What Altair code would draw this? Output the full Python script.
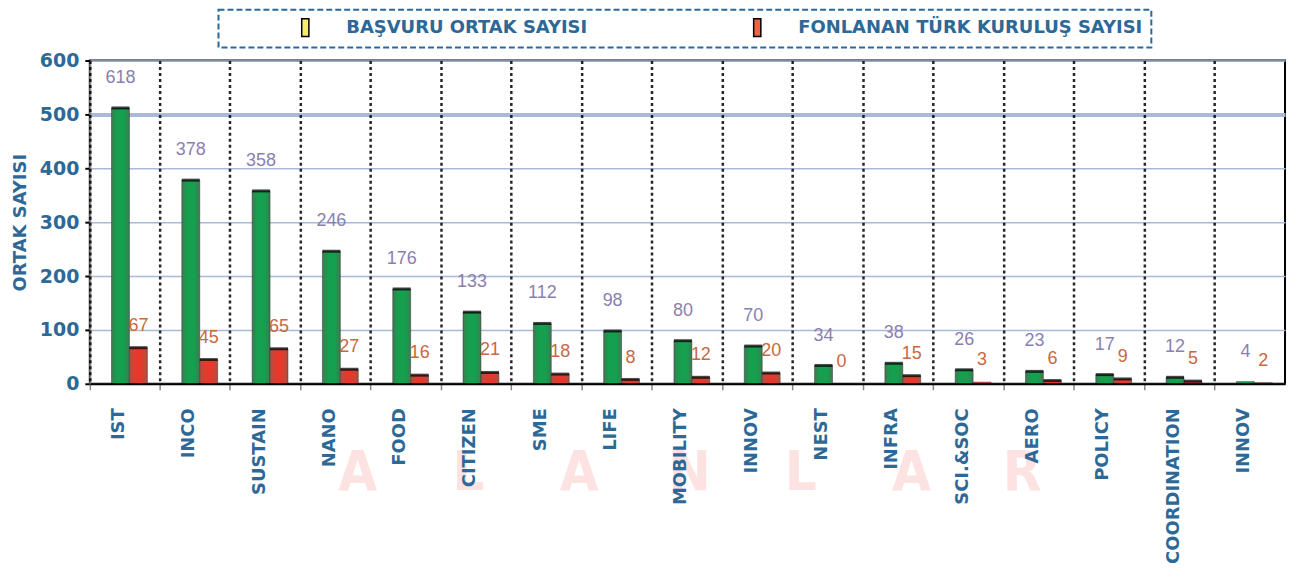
import json
import altair as alt
import pandas as pd

categories = ["IST", "INCO", "SUSTAIN", "NANO", "FOOD", "CITIZEN", "SME", "LIFE",
              "MOBILITY", "INNOV", "NEST", "INFRA", "SCI.&SOC", "AERO", "POLICY",
              "COORDINATION", "INNOV"]
basvuru_labels = [618, 378, 358, 246, 176, 133, 112, 98, 80, 70, 34, 38, 26, 23, 17, 12, 4]
basvuru_bars = [512, 378, 358, 246, 176, 133, 112, 98, 80, 70, 34, 38, 26, 23, 17, 12, 4]
fonlanan_labels = [67, 45, 65, 27, 16, 21, 18, 8, 12, 20, 0, 15, 3, 6, 9, 5, 2]
fonlanan_bars = [67, 45, 65, 27, 16, 21, 18, 8, 12, 20, 0, 15, 3, 6, 9, 5, 2]
series_names = ["BAŞVURU ORTAK SAYISI", "FONLANAN TÜRK KURULUŞ SAYISI"]
y_ticks = [0, 100, 200, 300, 400, 500, 600]
watermark = ["A", "L", "A", "N", "L", "A", "R"]

BLUE = "#2d6896"

rows = []
for i in range(len(categories)):
    rows.append({"idx": i, "series": "B", "name": series_names[0],
                 "bar": basvuru_bars[i], "label": basvuru_labels[i]})
    rows.append({"idx": i, "series": "F", "name": series_names[1],
                 "bar": fonlanan_bars[i], "label": fonlanan_labels[i]})
df = pd.DataFrame(rows)
wm_df = pd.DataFrame({"pos": list(range(len(watermark))), "letter": watermark})

label_expr = json.dumps(categories) + "[datum.value]"

x_axis = alt.Axis(
    title=None, bandPosition=0, labelOffset=-6, labelAngle=270,
    labelExpr=label_expr, labelFont="DejaVu Sans", labelFontSize=18,
    labelFontWeight="bold", labelColor=BLUE, labelPadding=18,
    tickSize=6, tickColor="#888888", tickWidth=1.5,
    domainColor="black", domainWidth=2, zindex=1,
    grid=True, gridColor="black", gridDash=[3, 3], gridWidth=2.5, gridOpacity=0.85,
)
x_enc = alt.X("idx:O", scale=alt.Scale(paddingInner=0, paddingOuter=0), axis=x_axis)
xo_enc = alt.XOffset("series:N", scale=alt.Scale(domain=["B", "F"], paddingInner=0,
                                                 paddingOuter=0.96, align=0.63))
y_axis = alt.Axis(
    values=y_ticks, title="ORTAK SAYISI", titleFont="DejaVu Sans", titleFontSize=18,
    titleFontWeight="bold", titleColor=BLUE, titlePadding=10,
    labelFont="DejaVu Sans", labelFontSize=19, labelFontWeight="bold",
    labelColor=BLUE, labelPadding=6, tickColor="black", tickWidth=2, tickSize=5,
    domainColor="#888888", domainWidth=2, gridColor="#a9bad8",
    gridWidth={"condition": {"test": "datum.value == 500", "value": 4}, "value": 1.5},
)
y_enc = alt.Y("bar:Q", scale=alt.Scale(domain=[0, 600]), axis=y_axis)

green_grad = {"gradient": "linear", "x1": 0, "y1": 0, "x2": 1, "y2": 0,
              "stops": [{"offset": 0, "color": "#3f7a52"},
                        {"offset": 0.3, "color": "#14a04e"},
                        {"offset": 0.7, "color": "#14a04e"},
                        {"offset": 1, "color": "#3f7a52"}]}
red_grad = {"gradient": "linear", "x1": 0, "y1": 0, "x2": 1, "y2": 0,
            "stops": [{"offset": 0, "color": "#b05040"},
                      {"offset": 0.35, "color": "#e6392b"},
                      {"offset": 0.65, "color": "#e6392b"},
                      {"offset": 1, "color": "#b05040"}]}

base = alt.Chart(df)

bars = base.mark_bar(stroke="#333333", strokeWidth=0.5).encode(
    x=x_enc, xOffset=xo_enc, y=y_enc,
    fill=alt.condition("datum.series == 'B'", alt.value(green_grad), alt.value(red_grad)),
)

caps = base.transform_filter("datum.bar >= 5").mark_tick(
    color="black", thickness=3, size=18, orient="horizontal"
).encode(x=x_enc, xOffset=xo_enc, y=y_enc)

lab_g = base.transform_filter("datum.series == 'B'").mark_text(
    dy=-30, baseline="middle", font="Liberation Sans", fontSize=18, color="#8a7fb0"
).encode(x=x_enc, xOffset=xo_enc, y=y_enc, text="label:Q")

lab_r = base.transform_filter("datum.series == 'F'").mark_text(
    dy=-22, baseline="middle", font="Liberation Sans", fontSize=18, color="#c8683f"
).encode(x=x_enc, xOffset=xo_enc, y=y_enc, text="label:Q")

legend_layer = base.mark_square(opacity=0, size=1).encode(
    x=x_enc, y=y_enc,
    fill=alt.Fill("name:N",
                  scale=alt.Scale(domain=series_names, range=["#f6ec6a", "#ec6446"]),
                  legend=alt.Legend(
                      orient="none", legendX=129, legendY=-51, direction="horizontal",
                      title=None, labelFont="DejaVu Sans", labelFontSize=18,
                      labelFontWeight="bold", labelColor=BLUE, labelLimit=600,
                      symbolType="M-0.4,-1H0.4V1H-0.4Z", symbolSize=324,
                      symbolOpacity=1, symbolStrokeColor="black", symbolStrokeWidth=1.5,
                      symbolOffset=69, labelOffset=31, columnPadding=91, padding=8,
                      strokeColor=BLUE,
                  )),
)

main = alt.layer(bars, caps, lab_g, lab_r, legend_layer)

wm = alt.Chart(wm_df).mark_text(
    font="'Liberation Sans Narrow', 'DejaVu Sans Condensed', 'Roboto Condensed', 'Liberation Sans', sans-serif",
    fontSize=56, fontWeight="bold", color="#fde2e2", baseline="middle"
).encode(
    x=alt.X("pos:O", scale=alt.Scale(type="point", range=[213, 990]), axis=None),
    y=alt.value(413),
    text="letter:N",
)

chart = alt.layer(wm, main).resolve_scale(x="independent").properties(
    width=1198, height=324,
    padding={"left": 3, "top": 0, "right": 5, "bottom": 0},
).configure_view(stroke="black", strokeWidth=2).configure_legend(
    strokeDash=[6, 3], strokeWidth=2, strokeColor=BLUE
)

chart.save("out.html", embed_options={"renderer": "svg", "actions": False})
